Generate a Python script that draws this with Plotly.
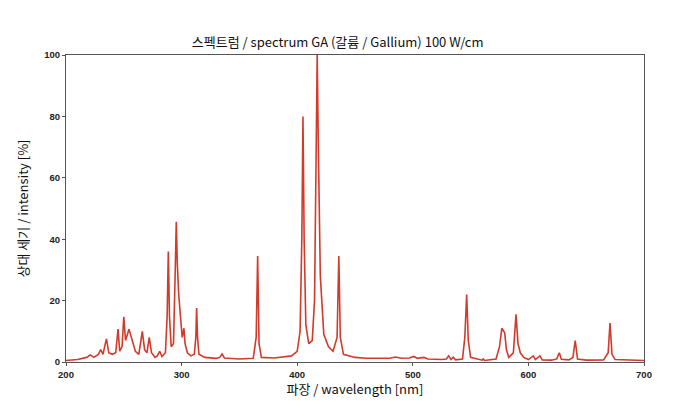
import plotly.graph_objects as go

# wavelength [nm] and relative intensity [%]
wavelength = [
    200, 210, 218, 221, 224, 228, 230, 232, 234, 235, 237, 240, 243, 245, 246.5, 248.5,
    250, 251.5, 254.5, 257, 260, 263, 266, 268, 270, 272, 274, 277, 279, 281, 283, 286,
    287.5, 288.5, 289.5, 291, 293, 294.5, 295.4, 296.3, 297.5, 299, 300.5, 302, 303, 305,
    308, 311, 312.3, 313, 313.8, 315, 320, 330, 333, 335, 337, 350, 362, 364.5, 365.8, 367,
    369, 380, 395, 400, 402.5, 404, 405, 406, 407.5, 410, 413, 415, 416.5, 417.3, 418.3,
    420, 423, 427, 431, 434.5, 436, 437.3, 440, 450, 460, 470, 480, 485, 490, 497, 500.8,
    504, 509.7, 513, 525, 529, 531, 533, 535, 537, 543, 545, 546.6, 548, 550, 560, 561,
    562, 572, 575, 577, 579.5, 581, 583, 587, 589.3, 591, 593, 596, 600, 604.3, 606, 610,
    612, 620, 624.5, 626.7, 628.5, 635, 638.5, 640.5, 642.5, 650, 665, 669, 670.6, 672.3,
    675, 690, 700,
]
intensity = [
    0.5, 0.8, 1.5, 2.3, 1.5, 2.5, 4, 2.5, 6, 7.5, 3, 2.5, 3, 10.7, 3.5, 5,
    14.7, 7, 10.7, 7, 3.5, 2.5, 10, 4, 3, 8, 3, 1.5, 2, 3.5, 1.8, 3,
    15, 36, 15, 5, 6, 30, 45.7, 32, 22, 15, 8, 11, 6, 3,
    2, 2.5, 8, 17.6, 8, 2.5, 1.5, 1.2, 1.5, 2.6, 1.3, 1, 1.2, 8, 34.5, 6,
    1.5, 1.3, 2, 3.5, 10, 40, 80, 40, 12, 6, 7, 20, 70, 100, 70,
    28, 9, 5, 3.5, 8, 34.5, 8, 2.5, 1.5, 1.2, 1.3, 1.2, 1.6, 1.2, 1.3, 1.8,
    1.2, 1.5, 1, 0.8, 1, 2, 0.8, 1.6, 0.7, 1, 8, 22, 7, 1.5, 0.6, 1,
    0.5, 1, 5, 11, 9.5, 4, 1.5, 3, 15.5, 6, 3, 1.5, 0.8, 2, 0.8, 2,
    0.7, 0.6, 1, 3, 0.9, 0.7, 1.5, 7, 1, 0.6, 0.7, 3, 12.7, 2.5,
    0.8, 0.6, 0.5,
]

x_ticks = [200, 300, 400, 500, 600, 700]
y_ticks = [0, 20, 40, 60, 80, 100]

fig = go.Figure()
fig.add_trace(go.Scatter(
    x=wavelength, y=intensity, mode="lines",
    line=dict(color="#d23a2c", width=1.6), hoverinfo="x+y",
))

tick_font = dict(family="Liberation Sans, Arial", size=9.5, color="#222", weight="bold")
fig.update_layout(
    width=684, height=420,
    margin=dict(l=58, r=48, t=47, b=66),
    paper_bgcolor="white", plot_bgcolor="white",
    showlegend=False,
    title=dict(
        text="스펙트럼 / spectrum GA (갈륨 / Gallium) 100 W/cm",
        x=0.482, xanchor="center", y=0.919, yanchor="middle",
        font=dict(family="Noto Sans CJK KR", size=13, color="#111"),
    ),
    xaxis=dict(
        range=[200, 700], tickvals=x_ticks, tickfont=tick_font,
        showgrid=False, zeroline=False, showline=True, linecolor="#555", linewidth=1.2,
        mirror=True, ticks="outside", ticklen=3, tickcolor="#555",
        title=dict(text="파장 / wavelength [nm]", standoff=4,
                   font=dict(family="Noto Sans CJK KR", size=13, color="#111")),
    ),
    yaxis=dict(
        range=[0, 100], tickvals=y_ticks, tickfont=tick_font,
        showgrid=False, zeroline=False, showline=True, linecolor="#555", linewidth=1.2,
        mirror=True, ticks="outside", ticklen=3, tickcolor="#555",
        title=dict(text="상대 세기 / intensity [%]", standoff=12,
                   font=dict(family="Noto Sans CJK KR", size=13, color="#111")),
    ),
)

fig.write_html("out.html")
